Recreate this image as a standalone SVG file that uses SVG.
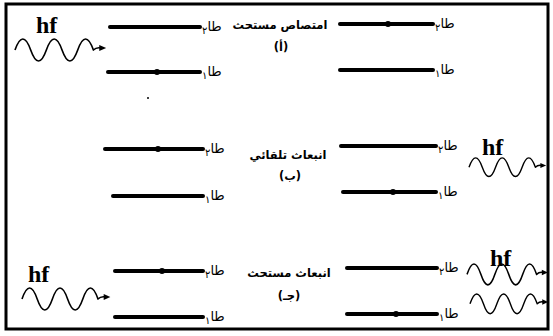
<svg xmlns="http://www.w3.org/2000/svg" xmlns:xlink="http://www.w3.org/1999/xlink" width="553" height="336" viewBox="0 0 553 336">
<style>
.lvl{stroke:#000;stroke-width:4;stroke-linecap:round;fill:none}
.dot{fill:#000}
.lab{font-family:"DejaVu Sans",sans-serif;font-size:13px;fill:#000}
.sub{font-size:10px}
.ttl{font-family:"DejaVu Sans",sans-serif;font-size:11.5px;font-weight:bold;fill:#000;text-anchor:middle}
.hf{font-family:"Liberation Serif",serif;font-size:24px;font-weight:bold;fill:#000}
.wave{stroke:#000;stroke-width:1.7;fill:none;stroke-linejoin:round}
</style>
<defs>
<g id="wv">
<path class="wave" d="M0,12 q8,-22 16,0 t16,0 t16,0 t16,0 t16,0 q3,-3 8,-2"/>
<path d="M86,7 L93,10 L86,13 Z" fill="#000"/>
</g>
</defs>
<rect x="6" y="4" width="542" height="325" fill="#fff" stroke="#000" stroke-width="3"/>

<g id="section-a">
<g id="a-photon"><text class="hf" x="36" y="33">hf</text><use xlink:href="#wv" transform="translate(15,38) scale(0.98,1)"/></g>
<g id="a-left-upper"><line class="lvl" x1="110" y1="27" x2="200" y2="27"/><text class="lab" x="202" y="31">طا<tspan class="sub" dy="3">٢</tspan></text></g>
<g id="a-left-lower"><line class="lvl" x1="108" y1="72" x2="200" y2="72"/><circle class="dot" cx="157" cy="72" r="3"/><text class="lab" x="202" y="76">طا<tspan class="sub" dy="3">١</tspan></text></g>
<circle class="dot" cx="148" cy="98" r="1"/>
<g id="a-title"><text class="ttl" x="280" y="29">امتصاص مستحث</text><text class="ttl" x="281" y="51">(أ)</text></g>
<g id="a-right-upper"><line class="lvl" x1="340" y1="24" x2="433" y2="24"/><circle class="dot" cx="388" cy="24" r="3"/><text class="lab" x="435" y="28">طا<tspan class="sub" dy="3">٢</tspan></text></g>
<g id="a-right-lower"><line class="lvl" x1="340" y1="70" x2="433" y2="70"/><text class="lab" x="435" y="74">طا<tspan class="sub" dy="3">١</tspan></text></g>
</g>

<g id="section-b">
<g id="b-left-upper"><line class="lvl" x1="105" y1="149" x2="203" y2="149"/><circle class="dot" cx="158" cy="149" r="3"/><text class="lab" x="205" y="153">طا<tspan class="sub" dy="3">٢</tspan></text></g>
<g id="b-left-lower"><line class="lvl" x1="113" y1="196" x2="203" y2="196"/><text class="lab" x="205" y="200">طا<tspan class="sub" dy="3">١</tspan></text></g>
<g id="b-title"><text class="ttl" x="288" y="159">انبعاث تلقائي</text><text class="ttl" x="290" y="180">(ب)</text></g>
<g id="b-right-upper"><line class="lvl" x1="341" y1="146" x2="436" y2="146"/><text class="lab" x="438" y="150">طا<tspan class="sub" dy="3">٢</tspan></text></g>
<g id="b-right-lower"><line class="lvl" x1="343" y1="192" x2="436" y2="192"/><circle class="dot" cx="393" cy="192" r="3"/><text class="lab" x="438" y="196">طا<tspan class="sub" dy="3">١</tspan></text></g>
<g id="b-photon"><text class="hf" x="482" y="155">hf</text><use xlink:href="#wv" transform="translate(469,157) scale(0.83,0.85)"/></g>
</g>

<g id="section-c">
<g id="c-photon-in"><text class="hf" x="28" y="282">hf</text><use xlink:href="#wv" transform="translate(22,287) scale(0.95,1)"/></g>
<g id="c-left-upper"><line class="lvl" x1="115" y1="271" x2="203" y2="271"/><circle class="dot" cx="162" cy="271" r="3"/><text class="lab" x="205" y="275">طا<tspan class="sub" dy="3">٢</tspan></text></g>
<g id="c-left-lower"><line class="lvl" x1="115" y1="317" x2="203" y2="317"/><text class="lab" x="205" y="321">طا<tspan class="sub" dy="3">١</tspan></text></g>
<g id="c-title"><text class="ttl" x="289" y="277">انبعاث مستحث</text><text class="ttl" x="289" y="300">(جـ)</text></g>
<g id="c-right-upper"><line class="lvl" x1="347" y1="268" x2="437" y2="268"/><text class="lab" x="439" y="272">طا<tspan class="sub" dy="3">٢</tspan></text></g>
<g id="c-right-lower"><line class="lvl" x1="347" y1="314" x2="437" y2="314"/><circle class="dot" cx="396" cy="314" r="3"/><text class="lab" x="439" y="318">طا<tspan class="sub" dy="3">١</tspan></text></g>
<g id="c-photons-out"><text class="hf" x="490" y="266">hf</text><use xlink:href="#wv" transform="translate(467,263) scale(0.87,0.95)"/><use xlink:href="#wv" transform="translate(470,293) scale(0.84,0.9)"/></g>
</g>
</svg>
